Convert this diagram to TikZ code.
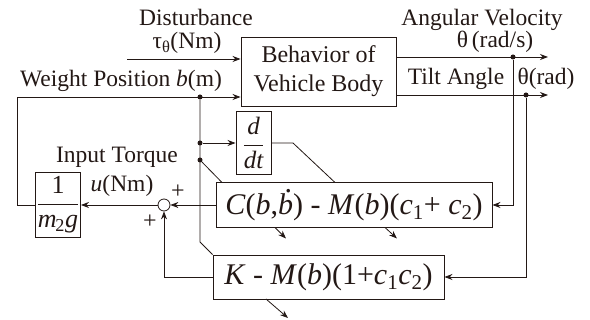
\documentclass[tikz,border=0pt]{standalone}
\usepackage{amsmath}
\usepackage{fontspec}
\setmainfont{Liberation Serif}
\usetikzlibrary{arrows.meta,positioning,calc}

\definecolor{ink}{RGB}{35,24,21}
\newcommand\bdotted{\textit{b}\llap{\raisebox{0.72em}{\upshape.}\kern0.04em}}

\tikzset{
  blk/.style={draw=ink, line width=0.9pt, inner sep=0pt, align=center, text=ink},
  sig/.style={draw=ink, line width=0.8pt, -{Stealth[length=8pt,width=6pt]}},
  wire/.style={draw=ink, line width=0.8pt},
  lbl/.style={anchor=base, inner sep=0pt, text=ink, font=\fontsize{23.5}{28}\selectfont},
  sgn/.style={inner sep=0pt, text=ink, font=\fontsize{24}{26}\selectfont},
  jdot/.style={circle, fill=ink, inner sep=0pt, minimum size=5pt},
}

\begin{document}
\begin{tikzpicture}[x=1pt,y=-1pt]
\useasboundingbox (0,0) rectangle (590,320);

% Blocks
\node[blk, minimum width=155pt, minimum height=69pt, font=\fontsize{24}{29}\selectfont] (body) at (318.5,71.5) {Behavior of\\Vehicle Body};
\node[blk, minimum width=35pt, minimum height=63pt, font=\fontsize{25}{28}\selectfont] (ddt) at (253.5,143) {$\dfrac{\mbox{\itshape d}}{\mbox{\itshape dt}}$};
\node[blk, minimum width=276pt, minimum height=45pt, font=\fontsize{30}{34}\selectfont] (cbox) at (354,205)
  {\textit{C}(\textit{b},\bdotted) - \textit{M}(\textit{b})(\textit{c}\textsubscript{1}+ \textit{c}\textsubscript{2})};
\node[blk, minimum width=231pt, minimum height=44pt, font=\fontsize{30}{34}\selectfont] (kbox) at (328.5,277)
  {\textit{K} - \textit{M}(\textit{b})(1+\textit{c}\textsubscript{1}\textit{c}\textsubscript{2})};
\node[blk, minimum width=45pt, minimum height=65pt, font=\fontsize{26}{29}\selectfont] (gain) at (58,205) {$\dfrac{\mbox{1}}{\mbox{\itshape m\kern-0.05em\textsubscript{\upshape 2}g}}$};
\node[draw=ink, line width=0.8pt, circle, minimum size=12pt, inner sep=0pt] (sum) at (164,205) {};

% Branch points
\node[jdot] (bA) at (200,97) {};
\node[jdot] (bB) at (200,143) {};
\node[jdot] (bC) at (200,160) {};
\node[jdot] (wA) at (513,57) {};
\node[jdot] (wB) at (526,95) {};

\coordinate (din) at (127,59);
\coordinate (lft) at (17,205);
\coordinate (oA) at (548,57);
\coordinate (oB) at (548,95);
\coordinate (bD) at (200,242);
\coordinate (dk) at (293,143);
\coordinate (dk2) at (335,182.5);
\coordinate (bk) at (222,182.5);

% Signals
\draw[sig] (din) -- (din -| body.west);
\draw[sig] (gain.west) -- (lft) |- (bA -| body.west);
\draw[sig] (body.east |- oA) -- (oA);
\draw[sig] (body.east |- oB) -- (oB);
\draw[sig] (wA) |- (cbox.east);
\draw[sig] (wB) |- (kbox.east);
\draw[wire] (bA) -- (bD) -- (kbox.north west);
\draw[sig] (bB) -- (ddt.west);
\draw[wire] (ddt.east) -- (dk) -- (dk2);
\draw[wire] (bC) -- (bk);
\draw[sig] (cbox.west) -- (sum.east);
\draw[sig] (sum.west) -- (gain.east);
\draw[sig] (kbox.west) -| (sum.south);

% Parameter outputs
\coordinate (pA) at (275,227.5);
\coordinate (pB) at (385,227.5);
\coordinate (pC) at (266,299);
\draw[sig] (pA) -- ++(11,11);
\draw[sig] (pB) -- ++(12,11);
\draw[sig] (pC) -- ++(22,19);

% Labels
\node[lbl] (tDist) at (196,26) {Disturbance};
\node[lbl] (tTau) at (187,49) {τ\textsubscript{θ}(Nm)};
\node[lbl] (tWeight) at (121,87) {Weight Position \textit{b}(m)};
\node[lbl] (tAngVel) at (482,26) {Angular Velocity};
\node[lbl] (tOmega) at (495,48) {θ\,(rad/s)};
\node[lbl] (tTilt) at (456,85) {Tilt Angle};
\node[lbl] (tTheta) at (546,85) {θ(rad)};
\node[lbl] (tInput) at (117,163) {Input Torque};
\node[lbl] (tU) at (122,192) {\textit{u}(Nm)};
\node[sgn] (pPlus) at (178,192) {+};
\node[sgn] (kPlus) at (150,222) {+};
\end{tikzpicture}
\end{document}
